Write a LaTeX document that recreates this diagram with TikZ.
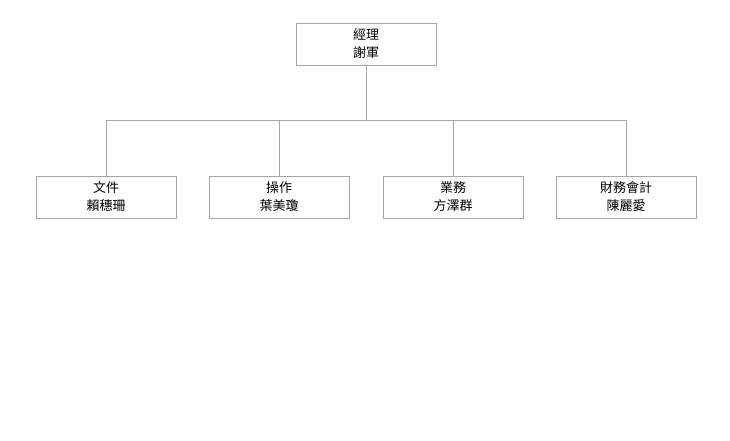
\documentclass[tikz,border=0pt]{standalone}
\usepackage{fontspec}
\setmainfont{Noto Sans CJK TC}
\usepackage{tikz}
\usetikzlibrary{positioning}

\begin{document}
\begin{tikzpicture}[x=1pt,y=-1pt,
    unit/.style={draw=gray!70, line width=0.8pt, minimum width=140pt, minimum height=42pt,
        align=center, font=\fontsize{13}{18}\selectfont, text=black},
    link/.style={draw=gray!70, line width=0.8pt}]
    \useasboundingbox (0,0) rectangle (730,440);

    % Manager
    \node[unit] (mgr) at (366,44) {經理\\謝軍};

    % Departments
    \node[unit] (doc) at (106,197) {文件\\賴穗珊};
    \node[unit] (ops) at (279,197) {操作\\葉美瓊};
    \node[unit] (biz) at (453,197) {業務\\方澤群};
    \node[unit] (fin) at (626,197) {財務會計\\陳麗愛};

    % Connectors
    \coordinate (bus) at (366,120);
    \draw[link] (mgr.south) -- (bus);
    \foreach \d in {doc,ops,biz,fin}
        \draw[link] (bus) -| (\d.north);
\end{tikzpicture}
\end{document}
